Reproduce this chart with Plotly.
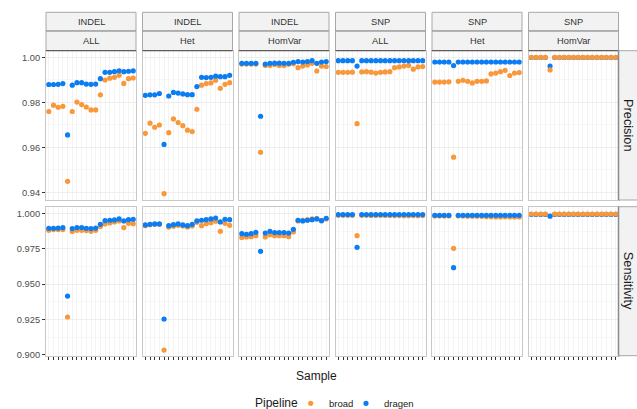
import plotly.graph_objects as go
from plotly.subplots import make_subplots

# ---------------- data ----------------
samples = list(range(1, 20))
variant_types = ["INDEL", "INDEL", "INDEL", "SNP", "SNP", "SNP"]
subsets = ["ALL", "Het", "HomVar", "ALL", "Het", "HomVar"]
metrics = ["Precision", "Sensitivity"]
pipelines = ["broad", "dragen"]

prec_indel_all_broad = [0.9759, 0.9787, 0.9778, 0.9782, 0.9449, 0.9759, 0.9801, 0.9790, 0.9779, 0.9766, 0.9766, 0.9833, 0.9899, 0.9907, 0.9911, 0.9920, 0.9884, 0.9905, 0.9908]
prec_indel_all_dragen = [0.9879, 0.9879, 0.9880, 0.9883, 0.9655, 0.9876, 0.9887, 0.9887, 0.9881, 0.9880, 0.9881, 0.9905, 0.9933, 0.9933, 0.9936, 0.9940, 0.9936, 0.9938, 0.9940]
prec_indel_het_broad = [0.9662, 0.9707, 0.9689, 0.9699, 0.9394, 0.9665, 0.9726, 0.9710, 0.9696, 0.9676, 0.9670, 0.9769, 0.9876, 0.9883, 0.9886, 0.9898, 0.9862, 0.9880, 0.9887]
prec_indel_het_dragen = [0.9831, 0.9833, 0.9833, 0.9839, 0.9613, 0.9828, 0.9844, 0.9841, 0.9837, 0.9834, 0.9834, 0.9870, 0.9911, 0.9910, 0.9911, 0.9916, 0.9914, 0.9914, 0.9920]
prec_indel_homvar_broad = [0.9970, 0.9970, 0.9970, 0.9970, 0.9578, 0.9964, 0.9964, 0.9968, 0.9964, 0.9963, 0.9969, 0.9971, 0.9954, 0.9961, 0.9966, 0.9973, 0.9939, 0.9961, 0.9959]
prec_indel_homvar_dragen = [0.9973, 0.9973, 0.9973, 0.9973, 0.9738, 0.9970, 0.9973, 0.9974, 0.9974, 0.9973, 0.9973, 0.9978, 0.9981, 0.9979, 0.9981, 0.9985, 0.9973, 0.9979, 0.9981]
prec_snp_all_broad = [0.9933, 0.9933, 0.9933, 0.9934, 0.9705, 0.9935, 0.9936, 0.9934, 0.9930, 0.9933, 0.9935, 0.9936, 0.9954, 0.9957, 0.9961, 0.9964, 0.9947, 0.9957, 0.9959]
prec_snp_all_dragen = [0.9985, 0.9985, 0.9985, 0.9985, 0.9961, 0.9985, 0.9985, 0.9985, 0.9985, 0.9985, 0.9985, 0.9985, 0.9985, 0.9985, 0.9985, 0.9985, 0.9985, 0.9985, 0.9985]
prec_snp_het_broad = [0.9890, 0.9890, 0.9890, 0.9891, 0.9556, 0.9893, 0.9898, 0.9893, 0.9886, 0.9893, 0.9893, 0.9895, 0.9926, 0.9930, 0.9936, 0.9942, 0.9919, 0.9930, 0.9932]
prec_snp_het_dragen = [0.9979, 0.9979, 0.9979, 0.9979, 0.9963, 0.9979, 0.9979, 0.9979, 0.9979, 0.9979, 0.9979, 0.9979, 0.9979, 0.9979, 0.9979, 0.9979, 0.9979, 0.9979, 0.9979]
prec_snp_homvar_broad = [1.0000, 1.0000, 1.0000, 1.0000, 0.9944, 1.0000, 1.0000, 1.0000, 1.0000, 1.0000, 1.0000, 1.0000, 1.0000, 1.0000, 1.0000, 1.0000, 1.0000, 1.0000, 1.0000]
prec_snp_homvar_dragen = [0.9999, 0.9999, 0.9999, 0.9999, 0.9961, 0.9999, 0.9999, 0.9999, 0.9999, 0.9999, 0.9999, 0.9999, 0.9999, 0.9999, 0.9999, 0.9999, 0.9999, 0.9999, 0.9999]

sens_indel_all_broad = [0.9880, 0.9885, 0.9885, 0.9885, 0.9268, 0.9871, 0.9880, 0.9880, 0.9878, 0.9873, 0.9880, 0.9906, 0.9925, 0.9932, 0.9939, 0.9946, 0.9899, 0.9929, 0.9927]
sens_indel_all_dragen = [0.9894, 0.9894, 0.9896, 0.9899, 0.9416, 0.9892, 0.9899, 0.9899, 0.9894, 0.9892, 0.9896, 0.9922, 0.9948, 0.9951, 0.9953, 0.9960, 0.9946, 0.9955, 0.9958]
sens_indel_het_broad = [0.9913, 0.9920, 0.9922, 0.9922, 0.9035, 0.9903, 0.9908, 0.9915, 0.9911, 0.9903, 0.9911, 0.9936, 0.9913, 0.9927, 0.9934, 0.9944, 0.9873, 0.9929, 0.9915]
sens_indel_het_dragen = [0.9918, 0.9922, 0.9925, 0.9925, 0.9254, 0.9913, 0.9920, 0.9925, 0.9918, 0.9913, 0.9922, 0.9946, 0.9951, 0.9955, 0.9960, 0.9967, 0.9939, 0.9958, 0.9955]
sens_indel_homvar_broad = [0.9830, 0.9833, 0.9835, 0.9842, None, 0.9833, 0.9849, 0.9842, 0.9842, 0.9842, 0.9835, 0.9868, 0.9946, 0.9951, 0.9955, 0.9960, 0.9962, 0.9948, 0.9960]
sens_indel_homvar_dragen = [0.9856, 0.9852, 0.9856, 0.9866, 0.9732, 0.9861, 0.9873, 0.9864, 0.9864, 0.9864, 0.9861, 0.9887, 0.9951, 0.9946, 0.9951, 0.9955, 0.9960, 0.9948, 0.9965]
sens_snp_all_broad = [0.9986, 0.9986, 0.9986, 0.9986, 0.9842, 0.9986, 0.9986, 0.9985, 0.9985, 0.9986, 0.9985, 0.9985, 0.9984, 0.9984, 0.9983, 0.9983, 0.9984, 0.9983, 0.9984]
sens_snp_all_dragen = [0.9991, 0.9991, 0.9991, 0.9991, 0.9760, 0.9991, 0.9991, 0.9991, 0.9991, 0.9991, 0.9991, 0.9991, 0.9991, 0.9991, 0.9991, 0.9991, 0.9991, 0.9991, 0.9991]
sens_snp_het_broad = [0.9981, 0.9981, 0.9981, 0.9981, 0.9753, 0.9981, 0.9981, 0.9980, 0.9980, 0.9980, 0.9979, 0.9976, 0.9975, 0.9974, 0.9974, 0.9975, 0.9974, 0.9974, 0.9974]
sens_snp_het_dragen = [0.9986, 0.9986, 0.9986, 0.9986, 0.9616, 0.9986, 0.9986, 0.9986, 0.9986, 0.9986, 0.9986, 0.9986, 0.9986, 0.9986, 0.9986, 0.9986, 0.9986, 0.9986, 0.9986]
sens_snp_homvar_broad = [0.9995, 0.9995, 0.9995, 0.9995, None, 0.9995, 0.9995, 0.9995, 0.9995, 0.9995, 0.9995, 0.9995, 0.9995, 0.9995, 0.9995, 0.9995, 0.9995, 0.9995, 0.9995]
sens_snp_homvar_dragen = [0.9992, 0.9992, 0.9992, 0.9992, 0.9980, 0.9992, 0.9992, 0.9992, 0.9992, 0.9992, 0.9992, 0.9992, 0.9992, 0.9992, 0.9992, 0.9992, 0.9992, 0.9992, 0.9992]

prec_ticks = [0.94, 0.96, 0.98, 1.00]
prec_labels = ["0.94", "0.96", "0.98", "1.00"]
sens_ticks = [0.900, 0.925, 0.950, 0.975, 1.000]
sens_labels = ["0.900", "0.925", "0.950", "0.975", "1.000"]

values = {
    ("Precision", 0): (prec_indel_all_broad, prec_indel_all_dragen),
    ("Precision", 1): (prec_indel_het_broad, prec_indel_het_dragen),
    ("Precision", 2): (prec_indel_homvar_broad, prec_indel_homvar_dragen),
    ("Precision", 3): (prec_snp_all_broad, prec_snp_all_dragen),
    ("Precision", 4): (prec_snp_het_broad, prec_snp_het_dragen),
    ("Precision", 5): (prec_snp_homvar_broad, prec_snp_homvar_dragen),
    ("Sensitivity", 0): (sens_indel_all_broad, sens_indel_all_dragen),
    ("Sensitivity", 1): (sens_indel_het_broad, sens_indel_het_dragen),
    ("Sensitivity", 2): (sens_indel_homvar_broad, sens_indel_homvar_dragen),
    ("Sensitivity", 3): (sens_snp_all_broad, sens_snp_all_dragen),
    ("Sensitivity", 4): (sens_snp_het_broad, sens_snp_het_dragen),
    ("Sensitivity", 5): (sens_snp_homvar_broad, sens_snp_homvar_dragen),
}

# ---------------- style ----------------
W, H = 637, 409
FONT = "Liberation Sans, Arial, sans-serif"
colors = {"broad": "#F9983A", "dragen": "#0B7DF2"}
col_px = [(46, 136), (142.5, 232.5), (239, 329), (335.5, 425.5), (432, 522), (528.5, 618.5)]
row_px = [(50.7, 200), (206.7, 355.7)]
strip_rows = [(12.3, 31.2), (31.2, 50.7)]
right_strip = (618.5, 637)
yranges = {"Precision": [0.93658, 1.00293], "Sensitivity": [0.8995, 1.00466]}

fig = make_subplots(rows=2, cols=6)

for r, metric in enumerate(metrics):
    for c in range(6):
        broad_vals, dragen_vals = values[(metric, c)]
        order = [("broad", broad_vals), ("dragen", dragen_vals)]
        if subsets[c] == "HomVar" and variant_types[c] == "SNP":
            order = order[::-1]
        for name, vals in order:
            fig.add_trace(
                go.Scatter(
                    x=samples, y=vals, mode="markers", name=name,
                    legendgroup=name, showlegend=False,
                    marker=dict(color=colors[name], size=5.2, line=dict(width=0)),
                ),
                row=r + 1, col=c + 1,
            )

for r, metric in enumerate(metrics):
    for c in range(6):
        idx = r * 6 + c + 1
        xa = "xaxis" if idx == 1 else f"xaxis{idx}"
        ya = "yaxis" if idx == 1 else f"yaxis{idx}"
        x0, x1 = col_px[c]
        y0, y1 = row_px[r]
        fig.layout[xa].update(
            domain=[x0 / W, x1 / W], range=[0.4, 19.6], automargin=False,
            tickmode="array", tickvals=samples, ticktext=["" for _ in samples],
            showticklabels=False,
            ticks="outside" if r == 1 else "", ticklen=3, tickwidth=1, tickcolor="#333333",
            showgrid=True, gridcolor="#F3F3F3", gridwidth=0.6,
            zeroline=False, showline=True, linecolor="#C8C8C8", linewidth=1, mirror=True,
        )
        if metric == "Precision":
            tv, tt = prec_ticks, prec_labels
            minor_vals = [0.95, 0.97, 0.99]
        else:
            tv, tt = sens_ticks, sens_labels
            minor_vals = [0.9125, 0.9375, 0.9625, 0.9875]
        fig.layout[ya].update(
            domain=[1 - y1 / H, 1 - y0 / H], range=yranges[metric], automargin=False,
            tickmode="array", tickvals=tv, ticktext=tt,
            showticklabels=(c == 0),
            ticks="outside" if c == 0 else "", ticklen=3, tickwidth=1, tickcolor="#333333",
            tickfont=dict(size=9.3, color="#4D4D4D", family=FONT),
            showgrid=True, gridcolor="#EEEEEE", gridwidth=0.6,
            minor=dict(tickmode="array", tickvals=minor_vals, showgrid=True,
                       gridcolor="#F7F7F7", gridwidth=0.5, ticks=""),
            zeroline=False, showline=True, linecolor="#C8C8C8", linewidth=1, mirror=True,
        )

shapes = []
annotations = []
# top strips
for c in range(6):
    x0, x1 = col_px[c]
    labels = [variant_types[c], subsets[c]]
    for k, (s0, s1) in enumerate(strip_rows):
        shapes.append(dict(type="rect", xref="paper", yref="paper",
                           x0=x0 / W, x1=x1 / W, y0=1 - s1 / H, y1=1 - s0 / H,
                           fillcolor="#F2F2F2", line=dict(color="#A8A8A8", width=1)))
        shapes.append(dict(type="line", xref="paper", yref="paper",
                           x0=x0 / W, x1=x1 / W, y0=1 - s1 / H, y1=1 - s1 / H,
                           line=dict(color="#4A4A4A", width=1)))
        annotations.append(dict(text=labels[k], xref="paper", yref="paper",
                                x=(x0 + x1) / 2 / W, y=1 - (s0 + s1) / 2 / H,
                                showarrow=False, xanchor="center", yanchor="middle",
                                font=dict(size=9.3, color="#333333", family=FONT)))
# right strips
for r, metric in enumerate(metrics):
    y0, y1 = row_px[r]
    shapes.append(dict(type="rect", xref="paper", yref="paper",
                       x0=right_strip[0] / W, x1=right_strip[1] / W + 0.01,
                       y0=1 - y1 / H, y1=1 - y0 / H,
                       fillcolor="#F2F2F2", line=dict(color="#A8A8A8", width=1)))
    shapes.append(dict(type="line", xref="paper", yref="paper",
                       x0=right_strip[0] / W, x1=right_strip[0] / W,
                       y0=1 - y1 / H, y1=1 - y0 / H,
                       line=dict(color="#8A8A8A", width=1.5)))
    annotations.append(dict(text=metric, xref="paper", yref="paper",
                            x=(right_strip[0] + right_strip[1]) / 2 / W + 0.001,
                            y=1 - (y0 + y1) / 2 / H, textangle=90,
                            showarrow=False, xanchor="center", yanchor="middle",
                            font=dict(size=12.8, color="#1A1A1A", family=FONT)))

annotations.append(dict(text="Sample", xref="paper", yref="paper",
                        x=316.3 / W, y=1 - 375.7 / H, showarrow=False,
                        xanchor="center", yanchor="middle",
                        font=dict(size=12, color="#1A1A1A", family=FONT)))

# legend (drawn manually to match ggplot spacing)
leg_y = 403.3
annotations.append(dict(text="Pipeline", xref="paper", yref="paper",
                        x=252.5 / W, y=1 - leg_y / H, showarrow=False,
                        xanchor="left", yanchor="middle",
                        font=dict(size=12, color="#1A1A1A", family=FONT)))
legend_items = [("broad", 310.7, 326.5), ("dragen", 366.0, 381.5)]
for name, dot_x, text_x in legend_items:
    shapes.append(dict(type="circle", xref="paper", yref="paper",
                       x0=(dot_x - 2.6) / W, x1=(dot_x + 2.6) / W,
                       y0=1 - (leg_y + 2.6) / H, y1=1 - (leg_y - 2.6) / H,
                       fillcolor=colors[name], line=dict(width=0)))
    annotations.append(dict(text=name, xref="paper", yref="paper",
                            x=text_x / W, y=1 - leg_y / H, showarrow=False,
                            xanchor="left", yanchor="middle",
                            font=dict(size=9.5, color="#1A1A1A", family=FONT)))

fig.update_layout(
    width=W, height=H,
    margin=dict(l=0, r=0, t=0, b=0),
    paper_bgcolor="white", plot_bgcolor="white",
    font=dict(family=FONT),
    shapes=shapes, annotations=annotations,
    showlegend=False,
)

fig.write_html(
    "out.html",
    config={"displayModeBar": False},
    post_script="document.body.style.margin='0px';document.body.style.overflow='hidden';",
)
